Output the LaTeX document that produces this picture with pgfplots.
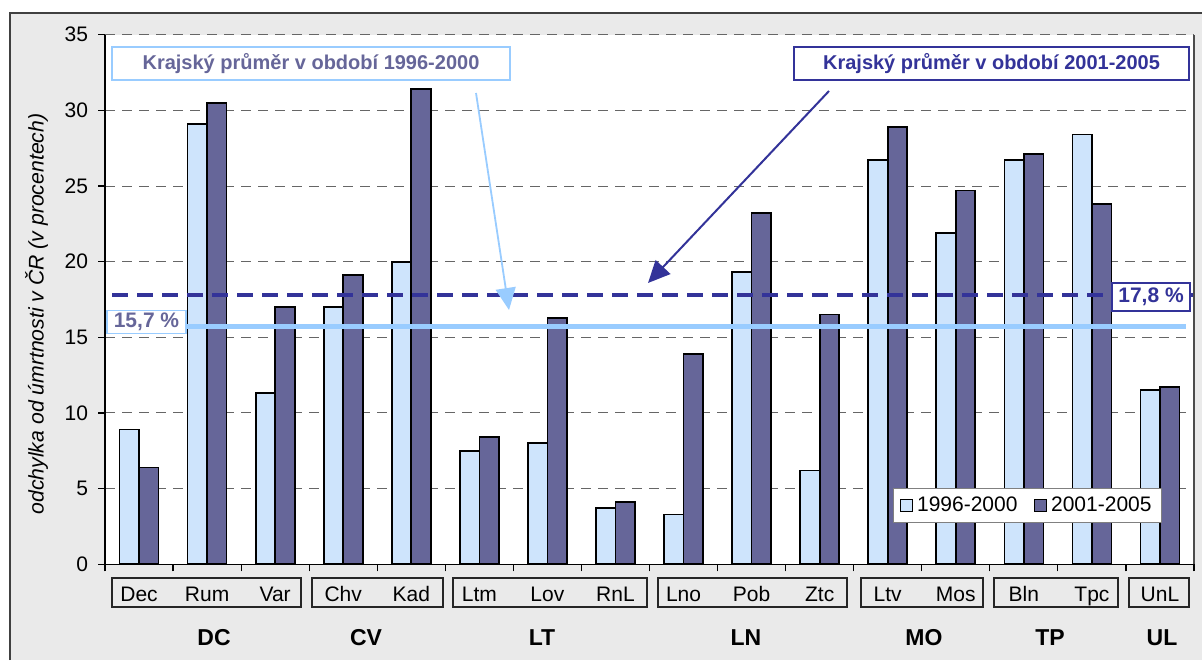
\documentclass[border=0pt]{standalone}
\usepackage{fontspec}
\setmainfont{Liberation Sans}
\usepackage{pgfplots}
\pgfplotsset{compat=1.18}
\usetikzlibrary{arrows.meta}

\definecolor{barlight}{RGB}{206,228,252}
\definecolor{bardark}{RGB}{102,102,153}
\definecolor{navy}{RGB}{51,51,153}
\definecolor{skyline}{RGB}{153,204,255}
\definecolor{slate}{RGB}{102,102,153}
\definecolor{panel}{RGB}{234,234,234}

\pgfplotstableread{
x  early late
0  8.9   6.4
1  29.1  30.5
2  11.3  17.0
3  17.0  19.1
4  20.0  31.4
5  7.5   8.4
6  8.0   16.3
7  3.7   4.1
8  3.3   13.9
9  19.3  23.2
10 6.2   16.5
11 26.7  28.9
12 21.9  24.7
13 26.7  27.1
14 28.4  23.8
15 11.5  11.7
}\deviace

\newcommand{\lab}{\fontsize{10.5}{12}\selectfont}

\begin{document}
\begin{tikzpicture}
% page and gray panel
\fill[white] (0,0) rectangle (601pt,330pt);
\fill[panel] (5pt,0) rectangle (601pt,323.5pt);
\draw[line width=0.7pt, black!75] (5pt,0) -- (5pt,323.5pt) -- (601pt,323.5pt);

\begin{axis}[
  at={(52.5pt,47.85pt)}, anchor=south west,
  scale only axis, width=544.5pt, height=264.8pt,
  xmin=-0.5, xmax=15.5, ymin=0, ymax=35,
  clip=false,
  axis x line*=bottom, axis y line*=left,
  axis line style={black, line width=0.6pt},
  axis background/.style={fill=white},
  ybar=0pt, bar width=9.75pt,
  xtick={-0.5,0.5,...,15.5}, xticklabels={},
  ytick={0,5,...,35},
  tick align=outside, major tick length=3.5pt,
  tick style={black, line width=0.6pt},
  ymajorgrids,
  grid style={black!60, line width=0.5pt, dash pattern=on 5pt off 3.5pt},
  yticklabel style={font=\lab, xshift=-1.5pt},
  /pgf/number format/assume math mode=true,
  sq/.style={legend image code/.code={\draw[##1, line width=0.8pt] (0pt,-3pt) rectangle (6pt,3pt);}},
  legend style={at={(0.7236,0.1441)}, anchor=north west, draw=black!50,
    line width=0.5pt, fill=white, font=\lab, legend columns=2,
    /tikz/every even column/.append style={column sep=6pt},
    inner xsep=3pt, inner ysep=2pt},
]
\addplot[sq, fill=barlight, draw=black, line width=0.85pt] table[x=x, y=early] {\deviace};
\addplot[sq, fill=bardark, draw=black, line width=0.85pt] table[x=x, y=late] {\deviace};
\legend{1996-2000,2001-2005}

% regional means
\addplot[sharp plot, forget plot, no markers, navy, line width=2.2pt, dash pattern=on 8pt off 4.5pt]
  coordinates {(-0.397,17.8) (15.49,17.8)};
\addplot[sharp plot, forget plot, no markers, skyline, line width=2.5pt]
  coordinates {(0.69,15.7) (15.38,15.7)};

\draw[black!70, line width=0.6pt] (rel axis cs:1,0) -- (rel axis cs:1,1);

% district names
\foreach \i/\n in {0/Dec,1/Rum,2/Var,3/Chv,4/Kad,5/Ltm,6/Lov,7/RnL,8/Lno,9/Pob,10/Ztc,11/Ltv,12/Mos,13/Bln,14/Tpc,15/UnL}{
  \edef\tmp{\noexpand\node[anchor=base, font=\noexpand\lab, inner sep=0pt] at (axis cs:\i,0) [yshift=-18.7pt] {\n};}
  \tmp
}
\end{axis}

% group boxes
\foreach \a/\b in {56/150.5,156/221.5,226.5/323.5,329/423.5,430.5/491.5,497/559,564.5/594.5}
  \draw[black!85, line width=0.6pt] (\a pt,26.5pt) rectangle (\b pt,41pt);

% region names
\foreach \x/\n in {107/DC,183/CV,271/LT,373/LN,462/MO,525/TP,581/UL}
  \node[anchor=base, font=\bfseries\fontsize{11.5}{13}\selectfont, inner sep=0pt] at (\x pt,7.5pt) {\n};

% y label
\node[rotate=90, font=\itshape\fontsize{10.6}{12}\selectfont] at (18.25pt,173pt)
  {odchylka od úmrtnosti v ČR (v procentech)};

% value tags
\node[draw=skyline, line width=0.7pt, fill=white, text=slate, font=\bfseries\lab,
  minimum width=39.5pt, minimum height=11.3pt, inner sep=0pt] at (73.25pt,169pt) {15,7 \%};
\node[draw=navy, line width=0.7pt, fill=white, text=navy, font=\bfseries\lab,
  minimum width=39pt, minimum height=14pt, inner sep=0pt] at (575.5pt,181.5pt) {17,8 \%};

% callouts
\node[draw=skyline, line width=0.7pt, fill=white, text=slate, font=\bfseries\fontsize{10}{12}\selectfont,
  minimum width=199pt, minimum height=16.5pt, inner sep=0pt] at (155.5pt,298.25pt)
  {Krajský průměr v období 1996-2000};
\node[draw=navy, line width=0.7pt, fill=white, text=navy, font=\bfseries\fontsize{10}{12}\selectfont,
  minimum width=197.5pt, minimum height=16.5pt, inner sep=0pt] at (495.75pt,298.25pt)
  {Krajský průměr v období 2001-2005};
\draw[skyline, line width=0.9pt, -{Triangle[length=11pt,width=10pt]}] (238pt,283.5pt) -- (254.5pt,175pt);
\draw[navy, line width=1pt, -{Triangle[length=11pt,width=10pt]}] (414.5pt,284.5pt) -- (324pt,188.5pt);

\pgfresetboundingbox
\path (0,0) rectangle (601pt,330pt);
\end{tikzpicture}
\end{document}
